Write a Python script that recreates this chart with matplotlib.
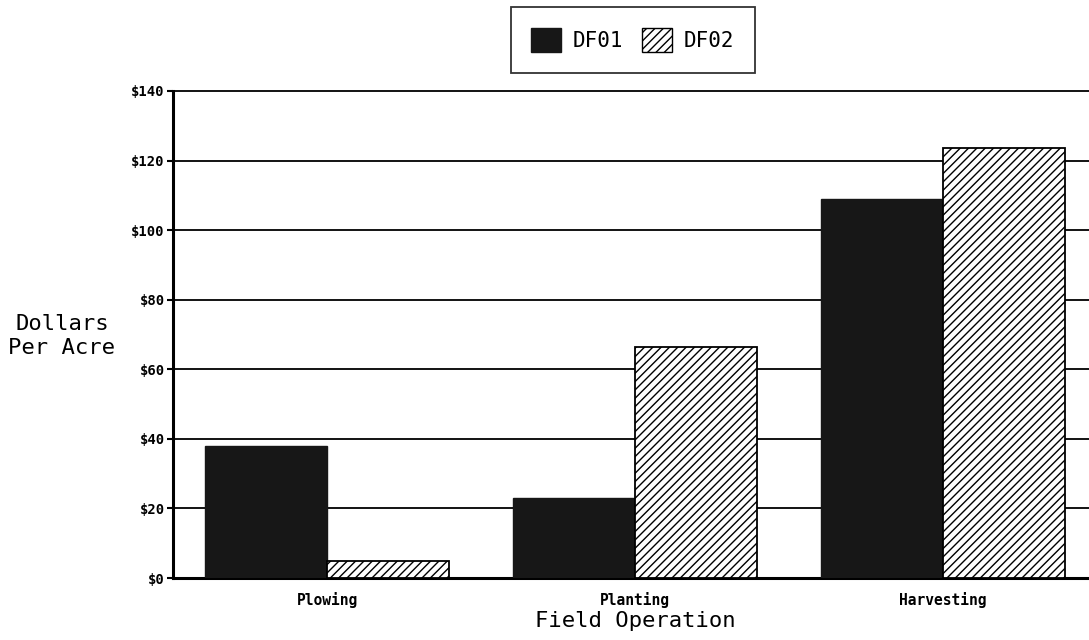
import matplotlib
matplotlib.use("Agg")
import matplotlib.pyplot as plt
import numpy as np
from matplotlib.patches import Patch

categories = ["Plowing", "Planting", "Harvesting"]
series_names = ["DF01", "DF02"]
df01 = [38, 23, 109]
df02 = [5, 66.5, 123.5]
yticks = [0, 20, 40, 60, 80, 100, 120, 140]
ytick_labels = ["$0", "$20", "$40", "$60", "$80", "$100", "$120", "$140"]

plt.rcParams['hatch.linewidth'] = 1.0
mono = ["DejaVu Sans Mono"]

W, H = 1089, 640
fig = plt.figure(figsize=(W / 100, H / 100), dpi=100)
left, right, bottom, top = 173, 1097, 578, 91
ax = fig.add_axes([left / W, 1 - bottom / H, (right - left) / W, (bottom - top) / H])

x = np.arange(len(categories))
bw = 0.396
ax.bar(x - bw / 2, df01, width=bw, color="#171717", edgecolor="#171717", linewidth=1, zorder=3)
ax.bar(x + bw / 2, df02, width=bw, color="white", edgecolor="black", hatch="////", linewidth=1.3, zorder=3)

ax.set_xlim(-0.5, 2.5)
ax.set_ylim(0, 140)
ax.set_yticks(yticks)
ax.set_yticklabels(ytick_labels, fontfamily=mono, fontweight="bold", fontsize=10)
ax.set_xticks(x)
ax.set_xticklabels(categories, fontfamily=mono, fontweight="bold", fontsize=10.5)
ax.tick_params(axis="x", length=0, pad=10)
ax.tick_params(axis="y", direction="out", length=4, width=1.5, pad=2)
ax.yaxis.grid(True, color="black", linewidth=1.3, zorder=0)
for gl in ax.get_ygridlines():
    gl.set_clip_on(False)
ax.set_axisbelow(True)
for s in ["top", "right"]:
    ax.spines[s].set_visible(False)
ax.spines["left"].set_linewidth(2.2)
ax.spines["bottom"].set_linewidth(2.2)

ax.set_xlabel("Field Operation", fontfamily=mono, fontsize=16, labelpad=2)
fig.text(62 / W, 1 - 336 / H, "Dollars\nPer Acre", fontfamily=mono, fontsize=16,
         ha="center", va="center", linespacing=1.3)

handles = [Patch(facecolor="#171717", edgecolor="#171717"),
           Patch(facecolor="white", edgecolor="black", hatch="////")]
leg = fig.legend(handles, series_names, loc="center", bbox_to_anchor=(633 / W, 1 - 40 / H),
                 ncol=2, frameon=True, fancybox=False, edgecolor="black",
                 prop={"family": mono, "size": 15}, handlelength=1.4, handleheight=1.4,
                 columnspacing=0.9, handletextpad=0.6, borderpad=1.0, borderaxespad=0)
leg.get_frame().set_linewidth(1.3)

fig.savefig("out.png", dpi=100)
